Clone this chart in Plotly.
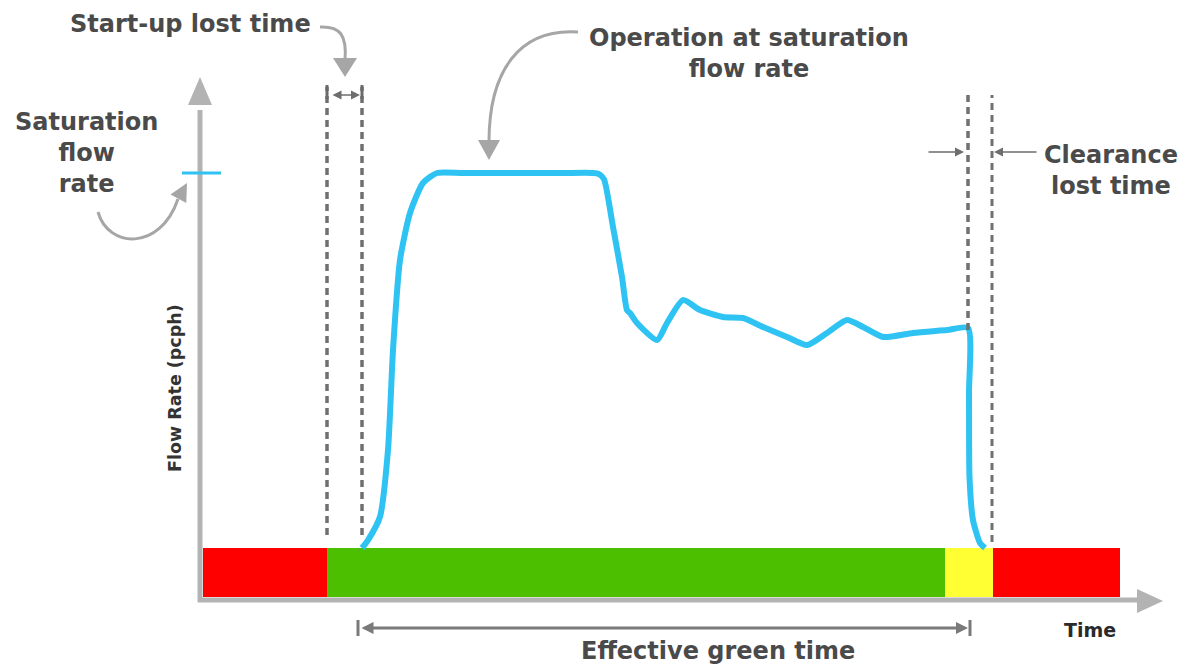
import plotly.graph_objects as go

# The page body has an 8px margin, so the figure is drawn 8px in from the window corner.
OFF = 8
W, H = 1199 - OFF, 669 - OFF

# ---- data (time in s, flow in pcph) ----
phase_names = ["Red", "Green", "Yellow", "Red"]
phase_start = [0.0, 12.4, 74.2, 79.0]
phase_end = [12.4, 74.2, 79.0, 91.7]
phase_colors = ["#ff0000", "#4cbf00", "#ffff33", "#ff0000"]

flow_t = [15.9, 16.5, 17.7, 18.5, 19.0, 19.7, 20.7, 22.0, 23.4, 26.0, 31.0, 36.0, 39.0,
          39.6, 40.1, 41.0, 41.9,
          42.4, 42.7, 43.4, 45.4, 46.4, 48.0, 49.7, 52.0, 54.0, 56.0, 58.4, 60.4,
          62.4, 64.4, 66.0, 68.0, 71.0, 74.4, 76.5, 76.6, 76.65, 77.0, 77.7, 78.2]
flow_v = [0, 38, 150, 470, 950, 1382, 1608, 1752, 1800, 1800, 1800, 1800, 1800,
          1795, 1770, 1541, 1301,
          1142, 1128, 1080, 998, 1080, 1190, 1142, 1109, 1104, 1061, 1013, 974,
          1032, 1094, 1061, 1013, 1032, 1046, 1056, 744, 341, 134, 24, 0]

saturation_flow = 1800
startup_lost = [12.4, 15.9]
clearance_lost = [76.5, 78.9]
effective_green = [15.5, 76.7]

# axis mapping: t=0 at window x=203, 10 px per s; flow 0 at window y=548, 4.8 pcph per px
X_RANGE = [(OFF - 203) / 10, (1199 - 203) / 10]
Y_RANGE = [(548 - 669) * 4.8, (548 - OFF) * 4.8]
BAR_BOTTOM = -235


def px(x, y):
    return (x - OFF) / W, 1 - (y - OFF) / H


def py(y):
    return 1 - (y - OFF) / H


def path(points, close=False):
    s = ""
    for i, (x, y) in enumerate(points):
        a, b = px(x, y)
        s += ("M" if i == 0 else "L") + f"{a:.5f},{b:.5f} "
    if close:
        s += "Z"
    return s


def cubic(p0, c1, c2, p1):
    pts = [px(*p) for p in (p0, c1, c2, p1)]
    return (f"M{pts[0][0]:.5f},{pts[0][1]:.5f} C{pts[1][0]:.5f},{pts[1][1]:.5f} "
            f"{pts[2][0]:.5f},{pts[2][1]:.5f} {pts[3][0]:.5f},{pts[3][1]:.5f}")


fig = go.Figure()

# signal phases bar
fig.add_trace(go.Bar(
    y=[BAR_BOTTOM / 2] * len(phase_start),
    x=[e - s for s, e in zip(phase_start, phase_end)],
    base=phase_start, orientation="h",
    width=[-BAR_BOTTOM] * len(phase_start),
    marker=dict(color=phase_colors, line=dict(width=0)),
    hoverinfo="skip", showlegend=False,
))

shapes = []
GRAY = "#b3b3b3"
DASH = "#707070"

# dashed lost-time lines
for t, top, bottom, w in [(startup_lost[0], 87, 535, 3.5), (startup_lost[1], 87, 535, 3.5),
                          (clearance_lost[0], 95, 330, 3.5), (clearance_lost[1], 95, 542, 3)]:
    shapes.append(dict(type="line", xref="x", yref="paper", x0=t, x1=t,
                       y0=py(bottom), y1=py(top), line=dict(color=DASH, width=w, dash="7px,5px")))

# axes
a0, b0 = px(200, 602)
a1, b1 = px(200, 110)
shapes.append(dict(type="line", xref="paper", yref="paper", x0=a0, x1=a1, y0=b0, y1=b1,
                   line=dict(color=GRAY, width=5)))
shapes.append(dict(type="path", xref="paper", yref="paper",
                   path=path([(188, 105), (212, 105), (200, 77)], close=True),
                   fillcolor=GRAY, line=dict(width=0)))
a0, b0 = px(198, 600)
a1, b1 = px(1140, 600)
shapes.append(dict(type="line", xref="paper", yref="paper", x0=a0, x1=a1, y0=b0, y1=b1,
                   line=dict(color=GRAY, width=5)))
shapes.append(dict(type="path", xref="paper", yref="paper",
                   path=path([(1137, 589), (1137, 613), (1163, 601)], close=True),
                   fillcolor=GRAY, line=dict(width=0)))

# saturation tick
shapes.append(dict(type="line", xref="paper", yref="y", x0=px(182, 0)[0], x1=px(221, 0)[0],
                   y0=saturation_flow, y1=saturation_flow, line=dict(color="#2ec3f2", width=3)))

# curved callout arrows
ARR = "#a6a6a6"
shapes.append(dict(type="path", xref="paper", yref="paper",
                   path=cubic((320, 27), (340, 26), (347, 35), (345, 60)),
                   line=dict(color=ARR, width=3)))
shapes.append(dict(type="path", xref="paper", yref="paper",
                   path=path([(333, 58), (357, 58), (345, 77)], close=True),
                   fillcolor=ARR, line=dict(width=0)))
shapes.append(dict(type="path", xref="paper", yref="paper",
                   path=cubic((98, 212), (108, 248), (160, 252), (178, 199)),
                   line=dict(color=ARR, width=3)))
shapes.append(dict(type="path", xref="paper", yref="paper",
                   path=path([(186.3, 203.1), (170.5, 194.5), (187, 183)], close=True),
                   fillcolor=ARR, line=dict(width=0)))
shapes.append(dict(type="path", xref="paper", yref="paper",
                   path=cubic((578, 32), (520, 28), (489, 70), (489, 142)),
                   line=dict(color=ARR, width=3)))
shapes.append(dict(type="path", xref="paper", yref="paper",
                   path=path([(478, 140), (500, 140), (489, 160)], close=True),
                   fillcolor=ARR, line=dict(width=0)))

# effective green caps
for t in effective_green:
    shapes.append(dict(type="line", xref="x", yref="paper", x0=t, x1=t,
                       y0=py(636), y1=py(620), line=dict(color="#7a7a7a", width=3)))
# startup bracket caps
for t in startup_lost:
    shapes.append(dict(type="line", xref="x", yref="paper", x0=t, x1=t,
                       y0=py(99), y1=py(85), line=dict(color="#6a6a6a", width=3)))

fig.update_layout(shapes=shapes)

# flow curve
fig.add_trace(go.Scatter(x=flow_t, y=flow_v, mode="lines",
                         line=dict(color="#2ec3f2", width=6, shape="spline", smoothing=0.6),
                         hoverinfo="skip", showlegend=False))

TXT = "#4a4a4a"
F = "DejaVu Sans"
ann = []


def label(text, x, y, size, color=TXT, angle=0, xanchor="center"):
    a, b = px(x, y)
    ann.append(dict(text=f"<b>{text}</b>", x=a, y=b, xref="paper", yref="paper",
                    showarrow=False, xanchor=xanchor, yanchor="middle", textangle=angle,
                    font=dict(family=F, size=size, color=color)))


label("Start-up lost time", 190, 24, 24)
label("Operation at saturation<br>flow rate", 749, 53, 24)
label("Saturation<br>flow<br>rate", 86, 153, 24)
label("Clearance<br>lost time", 1042, 171, 24, xanchor="left")
label("Effective green time", 718, 651, 24)
label("Time", 1090, 630, 19, color="#2a2a2a")
label("Flow Rate (pcph)", 175, 388, 17.5, color="#333333", angle=-90)


def arrow(x0, y0, x1, y1, width=1.5, color="#6e6e6e", both=False, size=1.0):
    a, b = px(x1, y1)
    ann.append(dict(x=a, y=b, xref="paper", yref="paper", ax=x0 - x1, ay=y0 - y1,
                    axref="pixel", ayref="pixel", showarrow=True, text="",
                    arrowhead=2, arrowsize=size, arrowwidth=width, arrowcolor=color,
                    arrowside="end+start" if both else "end"))


arrow(331, 95, 360, 95, width=1.5, both=True, size=1.2)
arrow(927, 152, 964, 152, width=1.5, size=1.2)
arrow(1038, 152, 994, 152, width=1.5, size=1.2)
arrow(360, 628, 968, 628, width=3, color="#7a7a7a", both=True, size=0.8)

fig.update_layout(
    annotations=ann,
    width=W, height=H,
    margin=dict(l=0, r=0, t=0, b=0),
    paper_bgcolor="white", plot_bgcolor="white",
    xaxis=dict(range=X_RANGE, visible=False, fixedrange=True),
    yaxis=dict(range=Y_RANGE, visible=False, fixedrange=True),
    bargap=0, showlegend=False,
)

fig.write_html("out.html")
